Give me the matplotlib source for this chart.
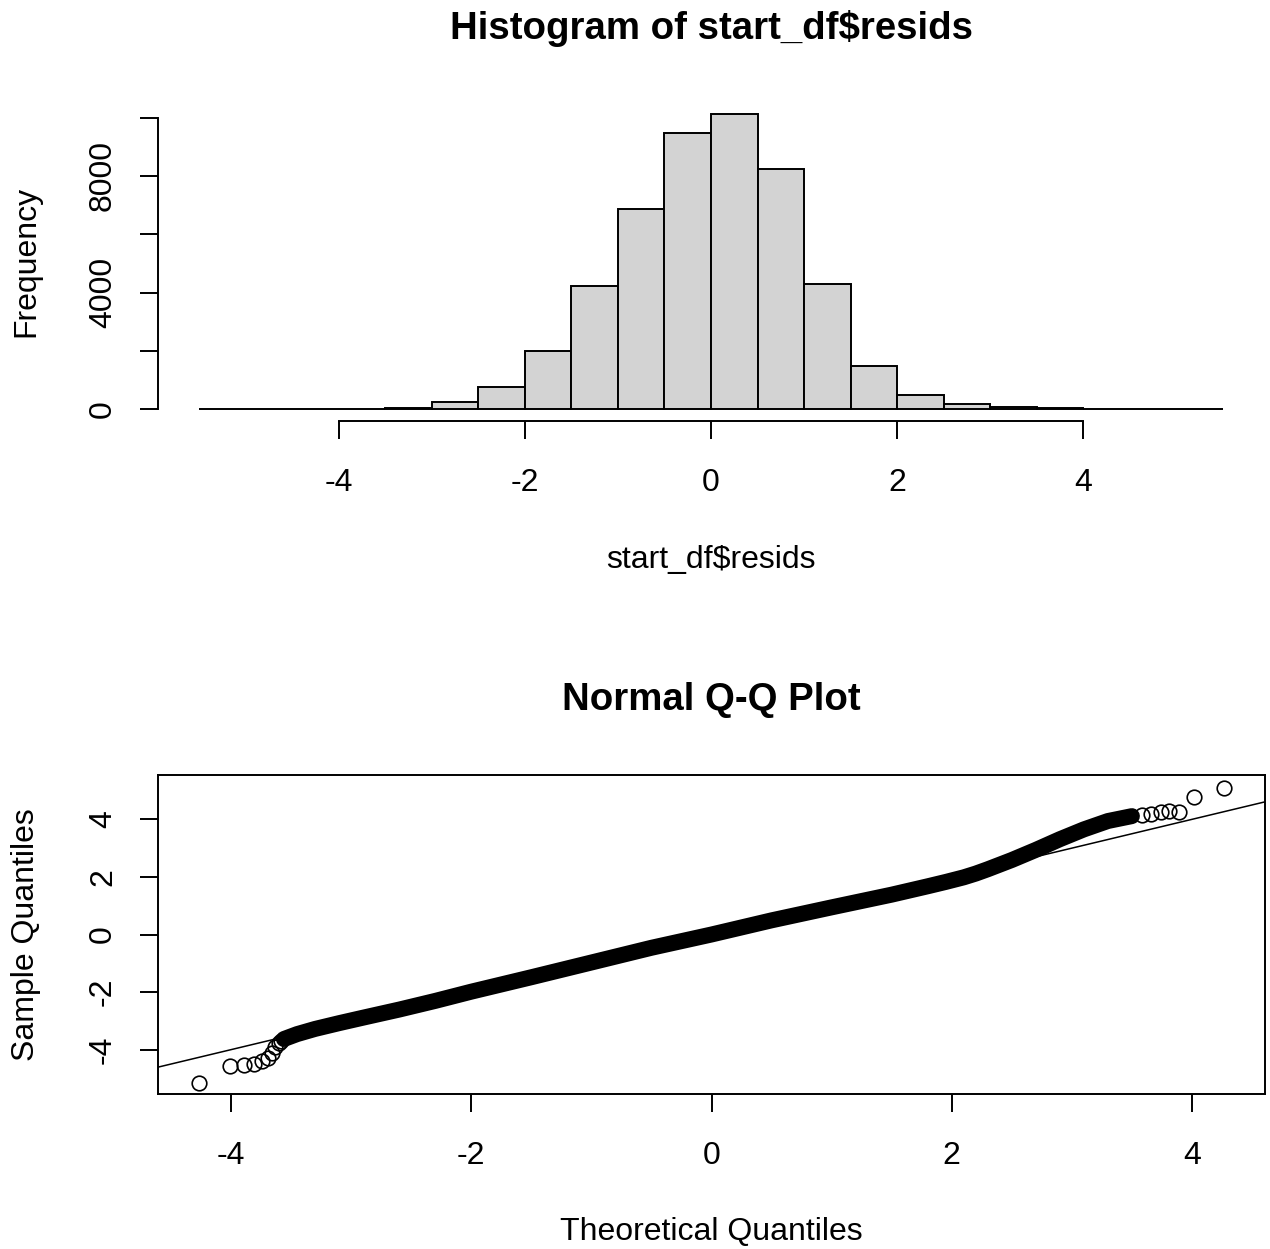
import numpy as np
import matplotlib
matplotlib.use("Agg")
import matplotlib.pyplot as plt

# ---------------- data ----------------
# Histogram of residuals: bin edges and counts
bin_edges = [-5.5, -5.0, -4.5, -4.0, -3.5, -3.0, -2.5, -2.0, -1.5, -1.0, -0.5,
             0.0, 0.5, 1.0, 1.5, 2.0, 2.5, 3.0, 3.5, 4.0, 4.5, 5.0, 5.5]
counts = [1, 2, 4, 8, 60, 250, 775, 2005, 4240, 6885, 9485,
          10110, 8230, 4300, 1505, 500, 195, 80, 55, 8, 1, 1]

hist_xticks = [-4, -2, 0, 2, 4]
hist_yticks = [0, 2000, 4000, 6000, 8000, 10000]
hist_ytick_labels = ["0", "", "4000", "", "8000", ""]

# Normal Q-Q plot: dense central band of points (theoretical, sample)
band_theoretical = [-3.56, -3.45, -3.30, -3.10, -2.90, -2.60, -2.30, -2.00,
                    -1.50, -1.00, -0.50, 0.00, 0.50, 1.00, 1.50, 1.80,
                    1.95, 2.10, 2.20, 2.30, 2.40, 2.50, 2.70, 2.90,
                    3.10, 3.30, 3.50]
band_sample = [-3.62, -3.45, -3.27, -3.07, -2.88, -2.60, -2.30, -1.98,
               -1.48, -0.97, -0.46, 0.00, 0.49, 0.94, 1.38, 1.67,
               1.82, 1.98, 2.11, 2.26, 2.42, 2.58, 2.93, 3.30,
               3.64, 3.93, 4.10]
# individually visible points in the tails
tail_theoretical = [-4.27, -4.01, -3.89, -3.81, -3.74, -3.69, -3.66, -3.63, -3.60, -3.58,
                    3.585, 3.655, 3.74, 3.81, 3.89, 4.02, 4.27]
tail_sample = [-5.13, -4.57, -4.53, -4.49, -4.38, -4.26, -4.09, -3.90, -3.75, -3.68,
               4.13, 4.19, 4.25, 4.28, 4.25, 4.75, 5.09]
qqline_intercept = 0.0
qqline_slope = 0.997

qq_xticks = [-4, -2, 0, 2, 4]
qq_yticks = [-4, -2, 0, 2, 4]

# ---------------- styling / layout ----------------
plt.rcParams["font.family"] = ["Liberation Sans", "DejaVu Sans"]
W, H = 1270, 1249
DPI = 100
PT = 72.0 / DPI          # points per pixel
BASE = 32 * PT           # base font size (pt)
LW = 1.4
TICKLEN = 18

fig = plt.figure(figsize=(W / DPI, H / DPI), dpi=DPI)


def rect(l, t, r, b):
    return [l / W, 1 - b / H, (r - l) / W, (b - t) / H]


def style_axis(ax, top, bottom, left, right, xtick_base, ytick_base):
    ax.tick_params(axis="both", direction="out", length=TICKLEN * PT, width=LW,
                   labelsize=BASE, color="black")
    ax.tick_params(axis="x", pad=(xtick_base - (bottom + TICKLEN)) * PT)
    ax.tick_params(axis="y", pad=((left - TICKLEN) - ytick_base) * PT)
    for lbl in ax.get_xticklabels():
        lbl.set_va("baseline")
    for lbl in ax.get_yticklabels():
        lbl.set_rotation(90)
        lbl.set_rotation_mode("anchor")
        lbl.set_ha("center")
        lbl.set_va("baseline")


# ---------- Histogram ----------
hl, ht, hr, hb = 158, 102, 1264, 421
ax1 = fig.add_axes(rect(hl, ht, hr, hb))
ax1.bar(bin_edges[:-1], counts, width=np.diff(bin_edges), align="edge",
        color="#D3D3D3", edgecolor="black", linewidth=LW)
ax1.set_xlim(-5.946, 5.946)
ax1.set_ylim(-394, 10534)
for s in ("top", "right"):
    ax1.spines[s].set_visible(False)
ax1.spines["bottom"].set_bounds(hist_xticks[0], hist_xticks[-1])
ax1.spines["left"].set_bounds(hist_yticks[0], hist_yticks[-1])
for s in ("bottom", "left"):
    ax1.spines[s].set_linewidth(LW)
ax1.set_xticks(hist_xticks)
ax1.set_xticklabels([str(v) for v in hist_xticks])
ax1.set_yticks(hist_yticks)
ax1.set_yticklabels(hist_ytick_labels)
style_axis(ax1, ht, hb, hl, hr, 491, 111)

ax1.set_title("Histogram of start_df$resids", fontsize=BASE * 1.2,
              fontweight="bold", y=(hb - 39) / (hb - ht), pad=0, va="baseline")
ax1.set_xlabel("start_df$resids", fontsize=BASE)
ax1.xaxis.set_label_coords(0.5, (hb - 568) / (hb - ht))
ax1.xaxis.label.set_va("baseline")
ax1.set_ylabel("Frequency", fontsize=BASE)
ax1.yaxis.set_label_coords((34 - hl) / (hr - hl), 0.5)
ax1.yaxis.label.set_va("baseline")

# ---------- Normal Q-Q plot ----------
ql, qt, qr, qb = 158, 775, 1265, 1094
ax2 = fig.add_axes(rect(ql, qt, qr, qb))
ax2.set_xlim(-4.608, 4.608)
ax2.set_ylim(-5.524, 5.524)
ax2.axline((0, qqline_intercept), slope=qqline_slope, color="black", lw=1.1)
ax2.plot(band_theoretical, band_sample, "-", color="black", lw=11.5,
         solid_capstyle="round", solid_joinstyle="round")
ax2.plot(tail_theoretical, tail_sample, "o", mfc="none", mec="black",
         ms=10.5, mew=1.2)
for s in ax2.spines.values():
    s.set_linewidth(LW)
ax2.set_xticks(qq_xticks)
ax2.set_xticklabels([str(v) for v in qq_xticks])
ax2.set_yticks(qq_yticks)
ax2.set_yticklabels([str(v) for v in qq_yticks])
style_axis(ax2, qt, qb, ql, qr, 1164, 111)

ax2.set_title("Normal Q-Q Plot", fontsize=BASE * 1.2, fontweight="bold",
              y=(qb - 710) / (qb - qt), pad=0, va="baseline")
ax2.set_xlabel("Theoretical Quantiles", fontsize=BASE)
ax2.xaxis.set_label_coords(0.5, (qb - 1240) / (qb - qt))
ax2.xaxis.label.set_va("baseline")
ax2.set_ylabel("Sample Quantiles", fontsize=BASE)
ax2.yaxis.set_label_coords((34 - ql) / (qr - ql), 0.5)
ax2.yaxis.label.set_va("baseline")

fig.savefig("out.png", dpi=DPI)
